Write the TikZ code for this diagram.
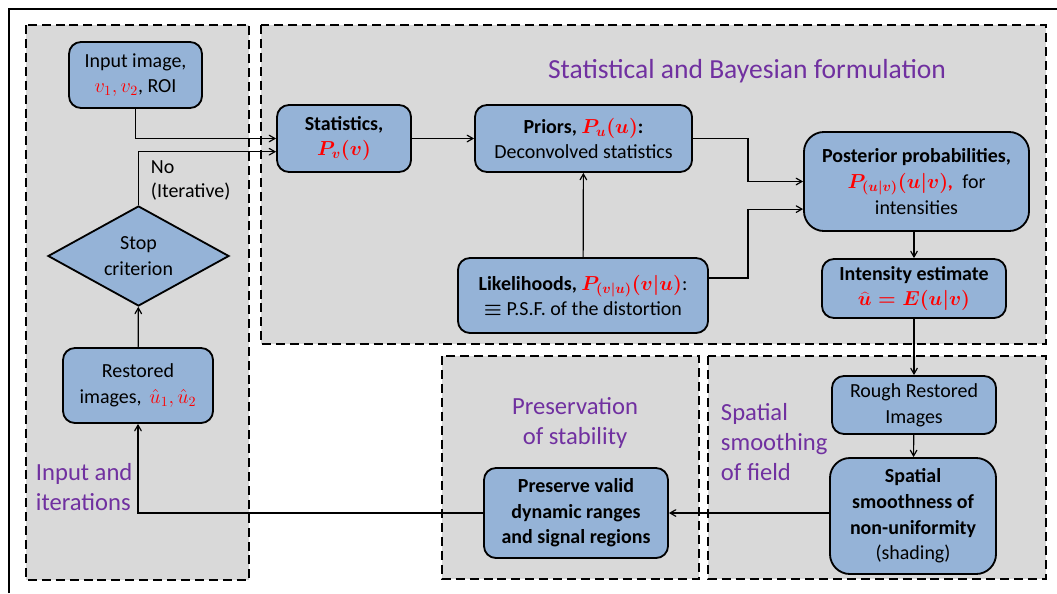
\documentclass[tikz,border=0pt]{standalone}
\usepackage{fontspec}
\setmainfont{Carlito}
\usepackage{tikz}
\usetikzlibrary{arrows,shapes.geometric}
\definecolor{boxblue}{RGB}{149,179,215}
\definecolor{panelgray}{RGB}{217,217,217}
\definecolor{labelpurple}{RGB}{112,48,160}
\newcommand{\redm}[1]{\textcolor{red}{#1}}

\begin{document}
\begin{tikzpicture}[x=0.025cm, y=-0.025cm, >=angle 60]
	\tikzstyle{panel}=[fill=panelgray, draw=black, line width=1.4pt, dash pattern=on 6.4pt off 3.5pt]
	\tikzstyle{box}=[fill=boxblue, draw=black, line width=1.3pt, rounded corners=0.3cm, align=center, inner sep=2pt, font=\fontsize{14.2}{18.2}\selectfont]
	\tikzstyle{decision}=[box, diamond, rounded corners=0pt, aspect=1.8, inner sep=0pt]
	\tikzstyle{caption}=[text=labelpurple, font=\fontsize{17.5}{21.3}\selectfont]
	\tikzstyle{link}=[line width=0.85pt, ->]
	\useasboundingbox (0,0) rectangle (1057,593);
	\draw[line width=1.4pt] (9,593) -- (9,9) -- (1057,9);
	% dashed panels
	\draw[panel] (26,25) rectangle (249,580);
	\draw[panel] (261,25) rectangle (1046,344);
	\draw[panel] (442,356) rectangle (699,579);
	\draw[panel] (708,356) rectangle (1046,579);
	% panel captions
	\path (747,71) node[caption, font=\fontsize{19.6}{23}\selectfont] (title) {Statistical and Bayesian formulation};
	\path (31,487) node[caption, anchor=west, align=left] (capin) {Input and\\iterations};
	\path (575,423) node[caption, align=center] (capstab) {Preservation\\of stability};
	\path (716,442) node[caption, anchor=west, align=left] (capsmooth) {Spatial\\smoothing\\of field};
	% boxes
	\path (135.5,75) node[box, minimum width=3.325cm, minimum height=1.65cm] (inimg) {Input image,\\ \redm{$v_1, v_2$}, ROI};
	\path (138.5,256) node[decision, minimum width=4.525cm, minimum height=2.5cm] (stop) {Stop\\ criterion};
	\path (138,385.5) node[box, minimum width=3.75cm, minimum height=1.875cm] (restored) {Restored\\ images,\, \redm{$\hat{u}_1, \hat{u}_2$}};
	\path (344,138.5) node[box, minimum width=3.35cm, minimum height=1.675cm] (stats) {\textbf{Statistics,}\\ \redm{\boldmath$P_v(v)$}};
	\path (583.5,138.5) node[box, minimum width=5.425cm, minimum height=1.675cm] (priors) {\textbf{Priors, \redm{\boldmath$P_u(u)$}:}\\ Deconvolved statistics};
	\path (583,295.5) node[box, minimum width=6.25cm, minimum height=1.875cm] (like) {\textbf{Likelihoods, \redm{\boldmath$P_{(v|u)}(v|u)$}}:\\ {\boldmath$\equiv$} P.S.F. of the distortion};
	\path (916.5,181.5) node[box, rounded corners=0.5cm, minimum width=5.625cm, minimum height=2.475cm] (post) {\textbf{Posterior probabilities,}\\ \redm{\boldmath$P_{(u|v)}(u|v)$\textbf{\textit{,}}}\ \ for\\ intensities};
	\path (914,288.5) node[box, minimum width=4.6cm, minimum height=1.475cm] (inten) {\textbf{Intensity estimate}\\ \redm{\boldmath$\widehat{u} = E(u|v)$}};
	\path (914,405) node[box, minimum width=4.1cm, minimum height=1.45cm] (rough) {Rough Restored\\ Images};
	\path (913,516) node[box, rounded corners=0.5cm, minimum width=4.15cm, minimum height=2.9cm] (smooth) {\textbf{Spatial}\\ \textbf{smoothness of}\\ \textbf{non-uniformity}\\ (shading)};
	\path (576,513) node[box, minimum width=4.6cm, minimum height=2.25cm] (preserve) {\textbf{Preserve valid}\\ \textbf{dynamic ranges}\\ \textbf{and signal regions}};
	\path (146,180.5) node[anchor=west, align=left, font=\fontsize{14.2}{17.7}\selectfont] (nolbl) {No\\(Iterative)};
	\coordinate (join) at (748,0);
	% connectors
	\draw[link] (inimg.south) |- (stats.west);
	\draw[link] (stop.north) |- ([yshift=-0.33cm]stats.west);
	\draw[link] (stats) -- (priors);
	\draw[link] (like) -- (priors);
	\draw[link] (priors.east) -- (priors.east -| join) |- (post.west);
	\draw[link] ([yshift=0.44cm]like.east) -- ([yshift=0.44cm]like.east -| join) |- ([yshift=-0.69cm]post.west);
	\draw[link] (inten.north |- post.south) -- (inten.north);
	\draw[link] (inten) -- (rough);
	\draw[link] (rough) -- (smooth);
	\draw[link] (preserve.east -| smooth.west) -- (preserve.east);
	\draw[link] (preserve.west) -| (restored.south);
	\draw[link] (restored) -- (stop);
\end{tikzpicture}
\end{document}
